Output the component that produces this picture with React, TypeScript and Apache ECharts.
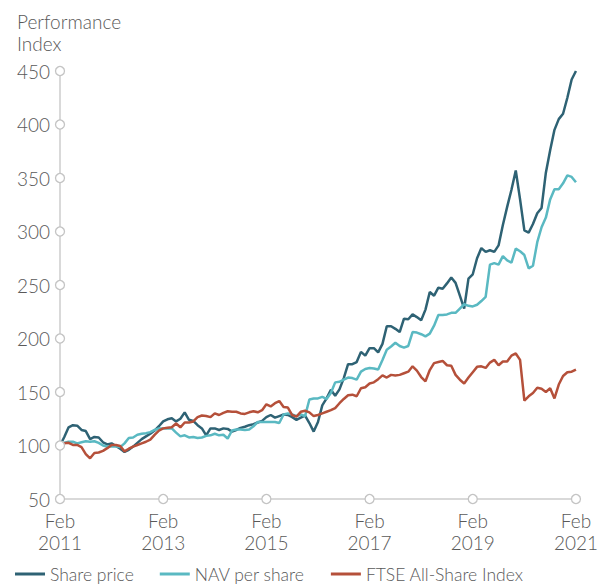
import React, { useEffect, useRef } from "react";
import * as echarts from "echarts";

const monthNames = ["Jan", "Feb", "Mar", "Apr", "May", "Jun", "Jul", "Aug", "Sep", "Oct", "Nov", "Dec"];
const startYear = 2011;
const startMonthIndex = 1; // Feb
const monthCount = 121;
const categories: string[] = Array.from({ length: monthCount }, (_, i) => {
  const t = startMonthIndex + i;
  return `${monthNames[t % 12]} ${startYear + Math.floor(t / 12)}`;
});

const yTicks = [50, 100, 150, 200, 250, 300, 350, 400, 450];
const xTickIndices = [0, 24, 48, 72, 96, 120];

const sharePrice = [
  100, 108, 117, 119, 118.5, 114.5, 113.5, 106, 108, 107.5, 103, 101,
  102, 99.5, 97, 94, 96, 99, 102.5, 106, 108.5, 111, 114, 118,
  122.5, 124.5, 125.5, 122.5, 125, 131, 124, 123, 119, 116, 109.5, 116,
  116, 114.5, 116, 115.5, 113, 114.5, 116.5, 117.5, 119, 120, 121.5, 123,
  126.5, 128.5, 126, 127.5, 129, 128.5, 126.5, 124, 126, 128, 121, 113,
  122, 137.5, 144, 152, 146.5, 152.5, 163, 176, 176, 178, 187.5, 184,
  191, 191, 187, 195, 211.5, 211.5, 209, 206, 218.5, 218, 222.5, 220,
  217, 227, 243.5, 240, 247.5, 246.5, 251.5, 257, 252, 240, 228, 256,
  260, 275, 284.5, 281, 282.5, 281, 287, 306, 323, 339, 357, 330,
  301, 299, 307, 317, 322, 355, 376, 395, 405, 410, 425, 442,
  450,
];

const navPerShare = [
  100, 102.5, 103.5, 103.5, 102, 103, 104, 103.5, 104, 102.5, 100, 99,
  99, 99, 98.5, 102, 107, 107.5, 110, 111, 111.5, 112.5, 114.5, 116,
  116, 116, 116, 112, 108.5, 109.5, 107.5, 108, 107, 107.5, 109, 109.5,
  111, 109.5, 110, 106.5, 114, 115, 115, 114.5, 115, 118, 122, 122,
  122, 122, 122, 121, 129, 130, 129, 127.5, 129, 127.5, 143, 144,
  144, 145.5, 143.5, 149, 159, 159.5, 161.5, 163.5, 163, 161.5, 169, 171.5,
  172.5, 172, 171, 180, 189.5, 192.5, 196, 193, 191.5, 193, 206, 205.5,
  204, 202, 204.5, 212, 222, 222, 222.5, 224, 224, 228, 232, 230.5,
  230, 231.5, 235, 239, 269, 270.5, 269, 277, 273, 271, 284, 281.5,
  278, 265.5, 268, 290, 304, 313, 330, 339.5, 339.5, 345, 352.5, 351,
  346,
];

const ftseAllShare = [
  100, 102, 102.5, 100.5, 100.5, 98.5, 92, 88, 93, 93.5, 95, 97.5,
  100.5, 100.5, 99.5, 94.5, 97, 99, 100.5, 102, 103.5, 105.5, 110, 114,
  116, 116.5, 117, 120.5, 117, 121.5, 121.5, 122.5, 126.5, 128, 127.5, 126.5,
  130, 128.5, 130.5, 132, 131.5, 131.5, 130, 129.5, 131, 132, 131, 133,
  138.5, 136.5, 139.5, 141.5, 136, 135.5, 128.5, 127, 131.5, 132.5, 131, 127.5,
  128.5, 130, 131.5, 133, 135, 139.5, 143.5, 147, 147.5, 146, 153.5, 154.5,
  158, 159, 162, 165.5, 163.5, 166, 165.5, 166, 167.5, 169, 174, 170,
  164, 160, 170.5, 177, 178, 179, 175, 174.5, 166, 161.5, 158, 163.5,
  168.5, 173.5, 174, 172.5, 177.5, 180, 175, 178.5, 178.5, 184, 186, 180,
  142, 146, 149, 154, 153, 150, 153.5, 144, 157, 165, 168.5, 169,
  171,
];

const FONT = "Lato";
const WEIGHT = 300;
const SIZE = 19;
const TEXT = "#595959";
const AXIS = "#d9d9d9";

export default function App() {
  const ref = useRef<HTMLDivElement>(null);
  useEffect(() => {
    document.body.style.margin = "0";
    if (!ref.current) return;
    const chart = echarts.init(ref.current, undefined, { renderer: "svg" });
    const tickPoints = [
      ...yTicks.map((v) => [0, v]),
      ...xTickIndices.filter((i) => i !== 0).map((i) => [i, 50]),
    ];
    chart.setOption({
      animation: false,
      textStyle: { fontFamily: FONT },
      title: {
        text: "Performance\nIndex",
        left: 17,
        top: 10,
        padding: 0,
        textStyle: { fontFamily: FONT, fontSize: SIZE, lineHeight: 22, color: TEXT, fontWeight: WEIGHT },
      },
      grid: { left: 60, right: 23, top: 71, bottom: 85, containLabel: false },
      legend: {
        data: ["Share price", "NAV per share", "FTSE All-Share Index"],
        left: 15,
        top: 564,
        padding: 0,
        icon: "rect",
        itemWidth: 30,
        itemHeight: 3,
        itemGap: 26,
        textStyle: { fontFamily: FONT, fontSize: 17.5, fontWeight: WEIGHT, color: TEXT, lineHeight: 20, padding: [0, 0, 0, 0] },
      },
      xAxis: {
        type: "category",
        data: categories,
        boundaryGap: false,
        axisLine: { lineStyle: { color: AXIS, width: 2 } },
        axisTick: { show: false },
        splitLine: { show: false },
        axisLabel: {
          interval: (idx: number) => idx % 24 === 0,
          formatter: (v: string) => v.replace(" ", "\n"),
          fontFamily: FONT,
          fontSize: SIZE,
          fontWeight: WEIGHT,
          lineHeight: 22,
          color: TEXT,
          margin: 10,
        },
      },
      yAxis: {
        type: "value",
        min: 50,
        max: 450,
        interval: 50,
        axisLine: { show: true, lineStyle: { color: AXIS, width: 2 } },
        axisTick: { show: false },
        splitLine: { show: false },
        axisLabel: { fontFamily: FONT, fontSize: SIZE, fontWeight: WEIGHT, color: TEXT, margin: 10 },
      },
      series: [
        {
          name: "Share price",
          type: "line",
          data: sharePrice,
          symbol: "none",
          color: "#2e6274",
          lineStyle: { width: 2.5, color: "#2e6274" },
        },
        {
          name: "NAV per share",
          type: "line",
          data: navPerShare,
          symbol: "none",
          color: "#5ab9c2",
          lineStyle: { width: 2.5, color: "#5ab9c2" },
        },
        {
          name: "FTSE All-Share Index",
          type: "line",
          data: ftseAllShare,
          symbol: "none",
          color: "#b5503a",
          lineStyle: { width: 2.5, color: "#b5503a" },
        },
        {
          name: "ticks",
          type: "scatter",
          data: tickPoints,
          symbol: "circle",
          symbolSize: 9,
          silent: true,
          z: 10,
          itemStyle: { color: "#ffffff", borderColor: "#c4c4c4", borderWidth: 1.3, opacity: 1 },
        },
      ],
    });
    return () => chart.dispose();
  }, []);
  return <div ref={ref} style={{ width: 601, height: 584 }} />;
}
